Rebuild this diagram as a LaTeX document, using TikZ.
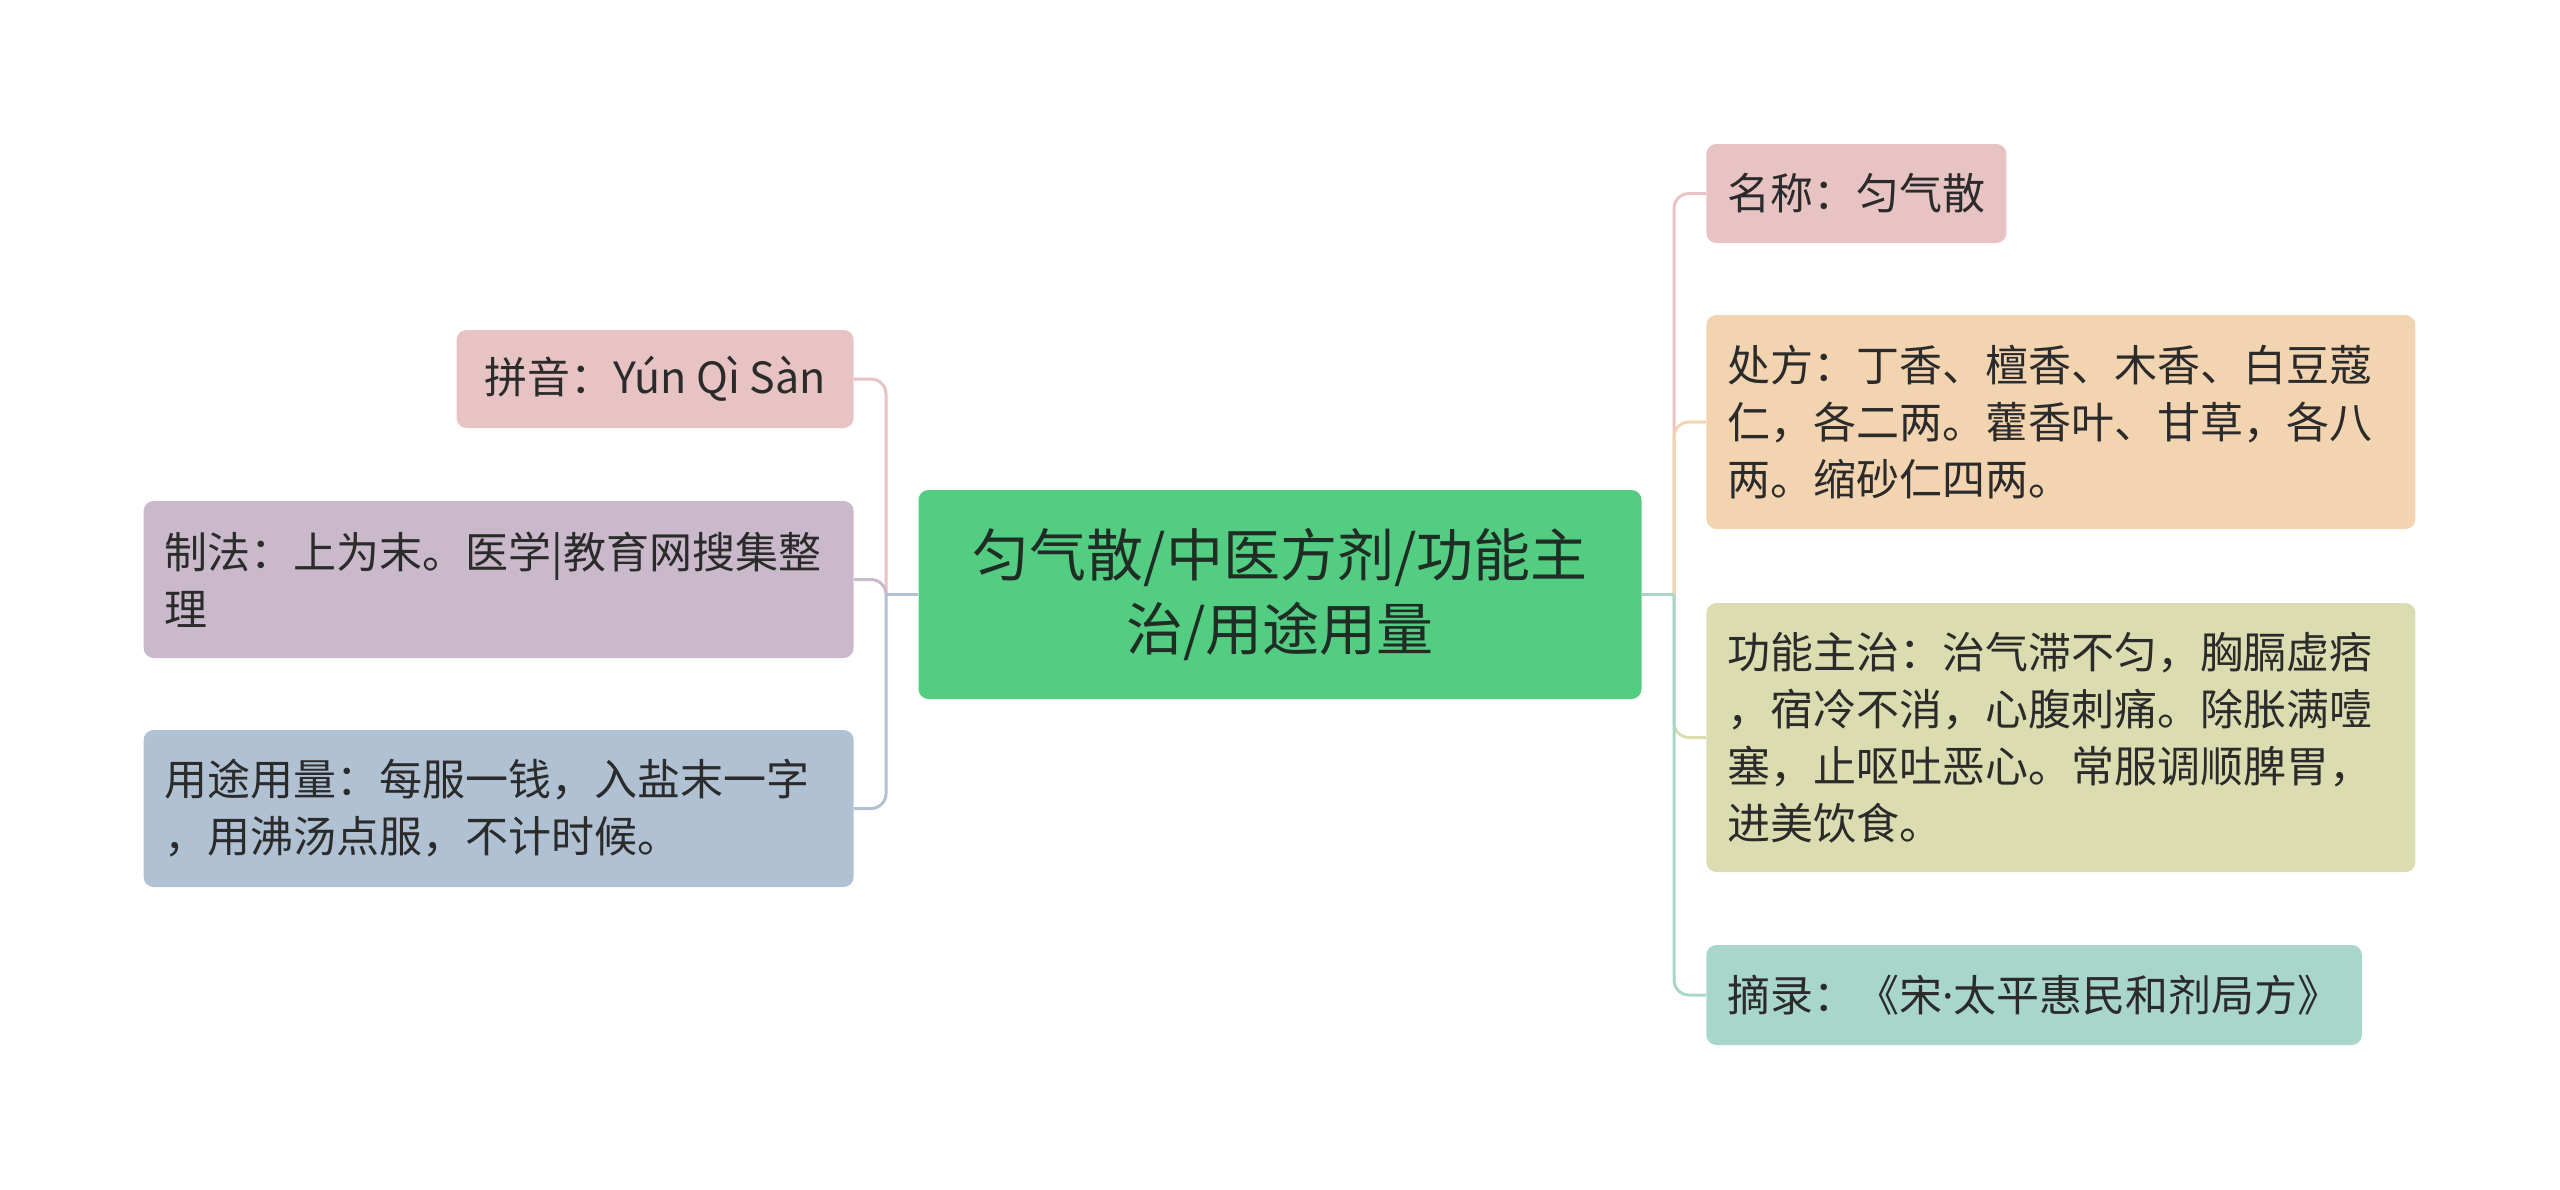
\documentclass[tikz,border=0pt]{standalone}
\usepackage{fontspec}
\setmainfont{Noto Sans CJK SC}
\newfontfamily\latinfont{Noto Sans}
\usetikzlibrary{positioning,calc}
\definecolor{MapGreen}{HTML}{52CD82}
\definecolor{MapPink}{HTML}{E7C3C3}
\definecolor{MapPeach}{HTML}{F2D4B1}
\definecolor{MapOlive}{HTML}{DBDDB0}
\definecolor{MapTeal}{HTML}{A9D6CB}
\definecolor{MapMauve}{HTML}{C9B9CA}
\definecolor{MapBlue}{HTML}{B0C1D3}
\definecolor{MapInk}{HTML}{2B2B2B}
\definecolor{RootInk}{HTML}{1F2D24}

\begin{document}
\begin{tikzpicture}[
  x=0.5pt, y=-0.5pt,
  topic/.style={fill=#1, rounded corners=5pt, inner xsep=10.5pt, inner ysep=0pt,
                font=\fontsize{21.5}{28.5}\selectfont, text=MapInk, align=left},
  rootbox/.style={fill=MapGreen, rounded corners=5pt, minimum width=361.5pt,
                  minimum height=104.5pt, font=\fontsize{28.5}{37}\selectfont,
                  text=RootInk, align=center},
  link/.style={line width=1.5pt, color=#1, rounded corners=7.5pt}
]
  \useasboundingbox (0,0) rectangle (2560,1189);

  % Centre topic
  \node[rootbox] (root) at (1280,594.5) {匀气散/中医方剂/功能主\\治/用途用量};

  % Right branch
  \node[topic=MapPink, minimum height=49.5pt, anchor=west] (name) at (1706,193.5)
    {名称：匀气散};
  \node[topic=MapPeach, text width=333.5pt, minimum height=107pt, anchor=west] (recipe) at (1706,422)
    {处方：丁香、檀香、木香、白豆蔻\\仁，各二两。藿香叶、甘草，各八\\两。缩砂仁四两。};
  \node[topic=MapOlive, text width=333.5pt, minimum height=134.5pt, anchor=west] (effect) at (1706,737.5)
    {功能主治：治气滞不匀，胸膈虚痞\\，宿冷不消，心腹刺痛。除胀满噎\\塞，止呕吐恶心。常服调顺脾胃，\\进美饮食。};
  \node[topic=MapTeal, minimum height=50pt, anchor=west] (source) at (1706,995)
    {摘录：《宋{\latinfont ·}太平惠民和剂局方》};

  % Left branch
  \node[topic=MapPink, minimum height=49pt, minimum width=198.5pt, anchor=east] (pinyin) at (854,379)
    {拼音：Yún Qì Sàn};
  \node[topic=MapMauve, text width=334pt, minimum height=78.5pt, anchor=east] (method) at (854,579.5)
    {制法：上为末。医学|教育网搜集整\\理};
  \node[topic=MapBlue, text width=334pt, minimum height=78.5pt, anchor=east] (usage) at (854,808.5)
    {用途用量：每服一钱，入盐末一字\\，用沸汤点服，不计时候。};

  % Connectors
  \coordinate (rj) at (1674,594.5);
  \coordinate (lj) at (886,594.5);
  \draw[link=MapPink]  (rj) |- (name.west);
  \draw[link=MapPeach] (rj) |- (recipe.west);
  \draw[link=MapOlive] (rj) |- (effect.west);
  \draw[link=MapTeal]  (rj) |- (source.west);
  \draw[link=MapTeal]  (root.east) -- (rj);
  \draw[link=MapPink]  (lj) |- (pinyin.east);
  \draw[link=MapMauve] (lj) |- (method.east);
  \draw[link=MapBlue]  (lj) |- (usage.east);
  \draw[link=MapBlue]  (root.west) -- (lj);
\end{tikzpicture}
\end{document}
